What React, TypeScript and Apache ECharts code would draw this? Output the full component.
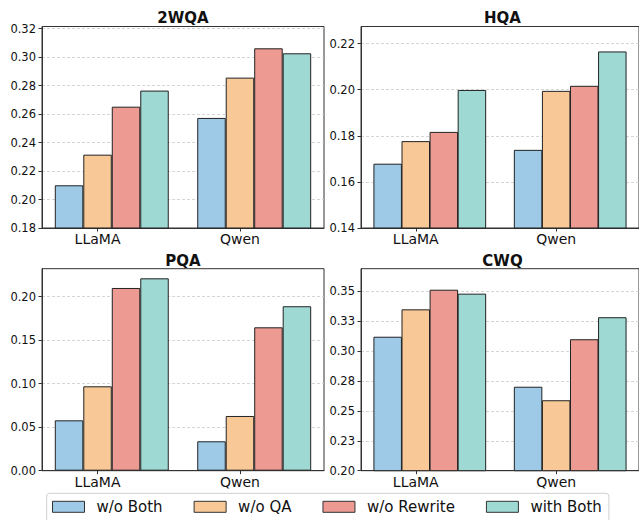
import React, { useEffect, useRef } from "react";
import * as echarts from "echarts";

const categories = ["LLaMA", "Qwen"];
const categoryPositions = [0, 1];
const seriesNames = ["w/o Both", "w/o QA", "w/o Rewrite", "with Both"];
const colors = ["#9ECAE8", "#F8C896", "#EC9A92", "#9EDAD3"];

const panelTitles = ["2WQA", "HQA", "PQA", "CWQ"];

// values per panel: [w/o Both, w/o QA, w/o Rewrite, with Both], each [LLaMA, Qwen]
const wqa2 = [
  [0.21, 0.2573],
  [0.2315, 0.2856],
  [0.2652, 0.3062],
  [0.2765, 0.3027],
];
const hqa = [
  [0.1679, 0.1739],
  [0.1777, 0.1995],
  [0.1817, 0.2017],
  [0.1999, 0.2166],
];
const pqa = [
  [0.0579, 0.0338],
  [0.097, 0.0629],
  [0.21, 0.1648],
  [0.2211, 0.189],
];
const cwq = [
  [0.312, 0.2702],
  [0.3349, 0.2589],
  [0.3513, 0.3099],
  [0.348, 0.3283],
];
const panelData = [wqa2, hqa, pqa, cwq];

const yMins = [0.18, 0.14, 0.0, 0.2];
const tickValues = [
  [0.18, 0.2, 0.22, 0.24, 0.26, 0.28, 0.3, 0.32],
  [0.14, 0.16, 0.18, 0.2, 0.22],
  [0.0, 0.05, 0.1, 0.15, 0.2],
  [0.2, 0.225, 0.25, 0.275, 0.3, 0.325, 0.35],
];
const tickLabels = [
  ["0.18", "0.20", "0.22", "0.24", "0.26", "0.28", "0.30", "0.32"],
  ["0.14", "0.16", "0.18", "0.20", "0.22"],
  ["0.00", "0.05", "0.10", "0.15", "0.20"],
  ["0.20", "0.23", "0.25", "0.28", "0.30", "0.33", "0.35"],
];

const FONT = "DejaVu Sans";
const BAR_W = 0.2; // bar width in x data units
const BAR_SLOTS = [-1, 0, 1, 2]; // bar slot offsets relative to the tick (matplotlib style)

export default function App() {
  const ref = useRef<HTMLDivElement>(null);
  useEffect(() => {
    document.body.style.margin = "0";
    if (!ref.current) return;
    const chart = echarts.init(ref.current, null, { renderer: "svg" });

    const gridPos = [
      { left: 42, top: 26.5, width: 282, height: 201.5 },
      { left: 361, top: 26.5, width: 283, height: 201.5 },
      { left: 42, top: 268.7, width: 282, height: 202 },
      { left: 361, top: 268.7, width: 283, height: 202 },
    ];

    const grid = gridPos.map((g) => ({
      ...g,
      show: true,
      borderColor: "#333",
      borderWidth: 1,
      backgroundColor: "transparent",
    }));

    const xLo = BAR_SLOTS[0] * BAR_W - BAR_W / 2;
    const xHi = 1 + BAR_SLOTS[3] * BAR_W + BAR_W / 2;
    const xPad = (xHi - xLo) * 0.05;

    const xAxis = gridPos.map((_, i) => ({
      type: "value",
      gridIndex: i,
      min: xLo - xPad,
      max: xHi + xPad,
      axisLine: { show: true, onZero: false, lineStyle: { color: "#333", width: 1 } },
      axisTick: { show: true, length: 3.5, lineStyle: { color: "#333" }, customValues: categoryPositions },
      axisLabel: {
        fontFamily: FONT,
        fontSize: 14,
        color: "#111",
        margin: 4,
        customValues: categoryPositions,
        formatter: (v: number) => categories[Math.round(v)] ?? "",
      },
      splitLine: { show: false },
    }));

    const yAxis = gridPos.map((_, i) => {
      const maxV = Math.max(...panelData[i].flat()) * 1.05;
      const labels = tickLabels[i];
      const vals = tickValues[i];
      return {
        type: "value",
        gridIndex: i,
        min: yMins[i],
        max: maxV,
        axisLine: { show: true, onZero: false, lineStyle: { color: "#333", width: 1 } },
        axisTick: { show: true, length: 3.5, lineStyle: { color: "#333" }, customValues: vals },
        axisLabel: {
          fontFamily: FONT,
          fontSize: 11.5,
          color: "#111",
          margin: 6,
          customValues: vals,
          formatter: (v: number) => {
            let best = 0;
            for (let k = 0; k < vals.length; k++) {
              if (Math.abs(vals[k] - v) < Math.abs(vals[best] - v)) best = k;
            }
            return labels[best];
          },
        },
        splitLine: {
          show: true,
          lineStyle: { color: "#cccccc", width: 0.8, type: [3, 2] },
        },
      };
    });

    const series: any[] = [];
    panelData.forEach((pd, i) => {
      pd.forEach((vals, s) => {
        series.push({
          type: "bar",
          name: seriesNames[s],
          xAxisIndex: i,
          yAxisIndex: i,
          data: vals.map((v, c) => [categoryPositions[c] + BAR_SLOTS[s] * BAR_W, v]),
          barWidth: 28.5,
          barGap: "-100%",
          itemStyle: { color: colors[s], borderColor: "#222", borderWidth: 1 },
          emphasis: { disabled: true },
        });
      });
    });

    const titleCenters = [
      [183, 18],
      [502.5, 18],
      [183, 260.5],
      [502.5, 260.5],
    ];
    const graphic = panelTitles.map((t, i) => ({
      type: "text",
      x: titleCenters[i][0],
      y: titleCenters[i][1],
      style: {
        text: t,
        fontFamily: FONT,
        fontSize: 15,
        fontWeight: "bold",
        fill: "#111",
        textAlign: "center",
        textVerticalAlign: "middle",
      },
    }));

    chart.setOption({
      animation: false,
      backgroundColor: "#fff",
      grid,
      xAxis,
      yAxis,
      series,
      graphic,
      legend: {
        data: seriesNames,
        left: 46.7,
        top: 493.3,
        icon: "rect",
        itemWidth: 32,
        itemHeight: 11,
        itemGap: 31,
        padding: [6, 7, 10, 5.3],
        borderColor: "#d0d0d0",
        borderWidth: 1,
        borderRadius: 3,
        backgroundColor: "#fff",
        itemStyle: { borderColor: "#333", borderWidth: 1 },
        textStyle: { fontFamily: FONT, fontSize: 15, color: "#111", padding: [0, 0, 0, 7] },
        selectedMode: false,
      },
    });
    return () => chart.dispose();
  }, []);
  return (
    <div
      ref={ref}
      style={{ position: "fixed", left: 0, top: 0, width: 639, height: 520 }}
    />
  );
}
